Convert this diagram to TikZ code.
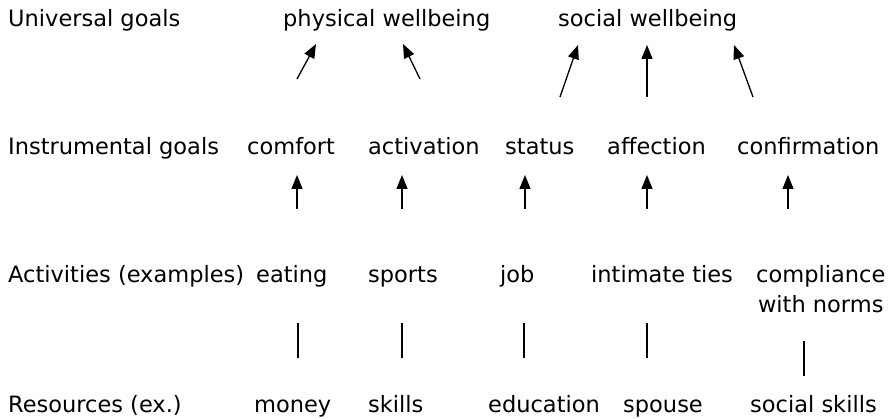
\documentclass[tikz,border=0pt]{standalone}
\usepackage{fontspec}
\setmainfont{DejaVu Sans}
\usetikzlibrary{arrows.meta}
\begin{document}
\begin{tikzpicture}[x=1pt,y=-1pt,
  lbl/.style={anchor=base west,inner sep=0pt,font=\fontsize{22.5}{29}\selectfont},
  uparrow/.style={line width=1.3pt,-{Triangle[length=14pt,width=11pt]}},
  link/.style={line width=1.3pt}]
\useasboundingbox (0,0) rectangle (890,419);
% level 1: universal goals
\node[lbl] (ug)   at (8,27)   {Universal goals};
\node[lbl] (phys) at (283,27) {physical wellbeing};
\node[lbl] (soc)  at (558,27) {social wellbeing};
% level 2: instrumental goals
\node[lbl] (ig)   at (8,155)   {Instrumental goals};
\node[lbl] (comf) at (247,155) {comfort};
\node[lbl] (actv) at (368,155) {activation};
\node[lbl] (stat) at (505,155) {status};
\node[lbl] (affe) at (607,155) {affection};
\node[lbl] (conf) at (737,155) {confirmation};
% level 3: activities
\node[lbl] (act)  at (8,283)   {Activities (examples)};
\node[lbl] (eat)  at (256,283) {eating};
\node[lbl] (spo)  at (368,283) {sports};
\node[lbl] (job)  at (500,283) {job};
\node[lbl] (tie)  at (591,283) {intimate ties};
\node[lbl,align=center] (comp) at (756,312) {compliance\\with norms};
% level 4: resources
\node[lbl] (res)  at (8,412)   {Resources (ex.)};
\node[lbl] (mon)  at (254,412) {money};
\node[lbl] (ski)  at (368,412) {skills};
\node[lbl] (edu)  at (488,412) {education};
\node[lbl] (spu)  at (623,412) {spouse};
\node[lbl] (ssk)  at (750,412) {social skills};
% connector end points
\coordinate (u1a) at (297,79);  \coordinate (u1b) at (316,44);
\coordinate (u2a) at (420,79);  \coordinate (u2b) at (403,44);
\coordinate (u3a) at (560,97);  \coordinate (u3b) at (578,45);
\coordinate (u4a) at (647,97);  \coordinate (u4b) at (647,45);
\coordinate (u5a) at (753,97);  \coordinate (u5b) at (734,45);
\coordinate (i1a) at (297,209); \coordinate (i1b) at (297,175);
\coordinate (i2a) at (402,209); \coordinate (i2b) at (402,175);
\coordinate (i3a) at (525,209); \coordinate (i3b) at (525,175);
\coordinate (i4a) at (647,209); \coordinate (i4b) at (647,175);
\coordinate (i5a) at (788,209); \coordinate (i5b) at (788,175);
\coordinate (r1a) at (298,358); \coordinate (r1b) at (298,323);
\coordinate (r2a) at (402,358); \coordinate (r2b) at (402,323);
\coordinate (r3a) at (524,358); \coordinate (r3b) at (524,323);
\coordinate (r4a) at (647,358); \coordinate (r4b) at (647,323);
\coordinate (r5a) at (804,376); \coordinate (r5b) at (804,341);
% instrumental goals -> universal goals
\foreach \i in {1,...,5} \draw[uparrow] (u\i a) -- (u\i b);
% activities -> instrumental goals
\foreach \i in {1,...,5} \draw[uparrow] (i\i a) -- (i\i b);
% resources -- activities
\foreach \i in {1,...,5} \draw[link] (r\i a) -- (r\i b);
\end{tikzpicture}
\end{document}
